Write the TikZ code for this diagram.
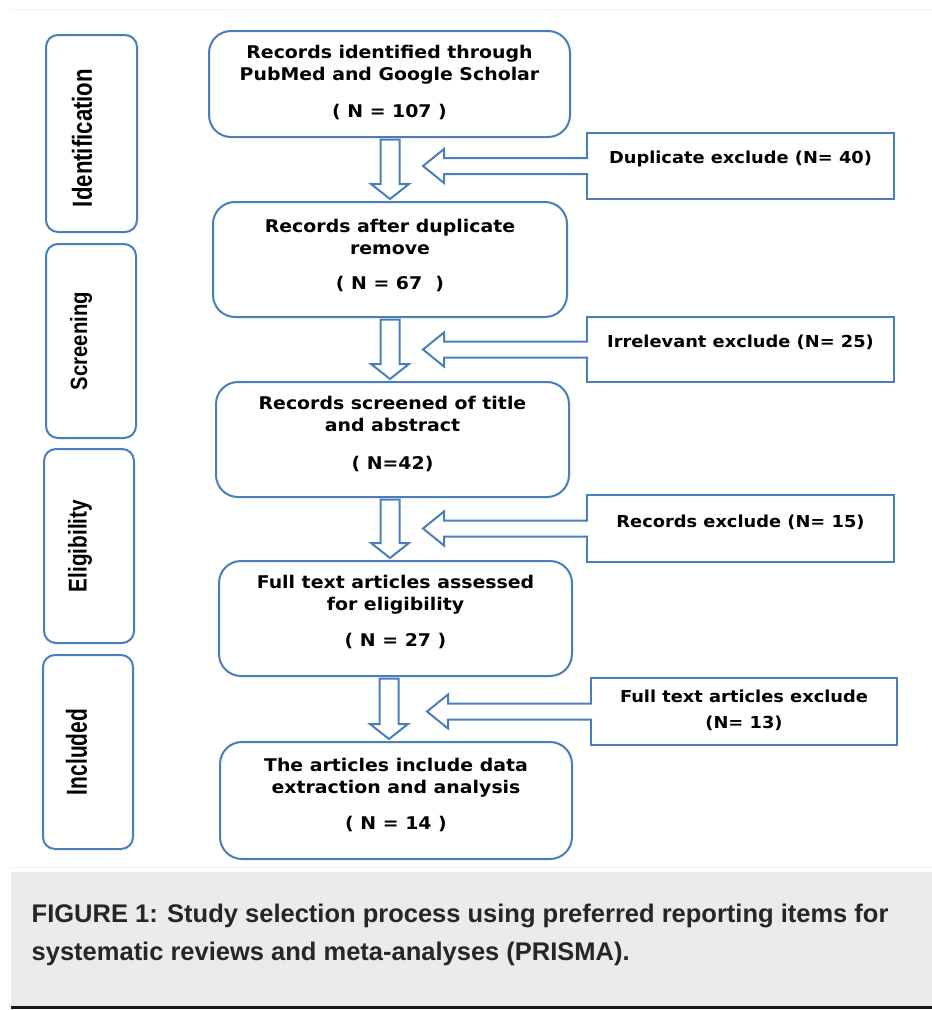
\documentclass[tikz,border=0pt]{standalone}
\usepackage{fontspec}
\usepackage{graphicx}
\usetikzlibrary{calc}
\setmainfont{Liberation Sans}
\newfontfamily\boxfont{DejaVu Sans}[FakeStretch=1.08]
\definecolor{bl}{RGB}{74,126,187}
\definecolor{capbg}{RGB}{235,235,235}
\definecolor{captxt}{RGB}{38,38,38}
\definecolor{faint}{RGB}{242,242,242}

\newcommand\dnarrow[3]{% #1 x reference, #2 upper node, #3 lower node
  \draw[blockarrow]
    ($(#1 |- #2.south)+(-9.5,2.5)$) -- ($(#1 |- #2.south)+(9.5,2.5)$) --
    ($(#1 |- #3.north)+(9.5,-18)$) -- ($(#1 |- #3.north)+(19,-18)$) --
    ($(#1 |- #3.north)+(0,-3)$) --
    ($(#1 |- #3.north)+(-19,-18)$) -- ($(#1 |- #3.north)+(-9.5,-18)$) -- cycle;}

\newcommand\lfarrow[2]{% #1 exclusion box, #2 tip x reference
  \fill[white] ($(#1.west)+(1.2,-8)$) -- ($(#2 |- #1.west)+(21,-8)$) --
    ($(#2 |- #1.west)+(21,-17)$) -- (#2 |- #1.west) -- ($(#2 |- #1.west)+(21,17)$) --
    ($(#2 |- #1.west)+(21,8)$) -- ($(#1.west)+(1.2,8)$) -- cycle;
  \draw[blockarrow, fill=none] ($(#1.west)+(1,-8)$) -- ($(#2 |- #1.west)+(21,-8)$) --
    ($(#2 |- #1.west)+(21,-17)$) -- (#2 |- #1.west) -- ($(#2 |- #1.west)+(21,17)$) --
    ($(#2 |- #1.west)+(21,8)$) -- ($(#1.west)+(1,8)$);}

\begin{document}
\begin{tikzpicture}[x=1pt,y=-1pt,
  stagebox/.style={draw=bl, line width=2pt, rounded corners=12pt, fill=white, inner sep=0pt, outer sep=0pt},
  mainbox/.style={draw=bl, line width=2pt, rounded corners=22pt, fill=white, inner sep=0pt, outer sep=0pt},
  exbox/.style={draw=bl, line width=2pt, fill=white, inner sep=0pt, outer sep=0pt},
  maintext/.style={align=center, inner sep=0pt, anchor=north, text=black,
    font=\boxfont\bfseries\fontsize{17.5}{21.5}\selectfont},
  extext/.style={align=center, inner sep=0pt, text=black,
    font=\boxfont\bfseries\fontsize{16.5}{26}\selectfont},
  stagetext/.style={rotate=90, inner sep=0pt, text=black, font=\bfseries},
  blockarrow/.style={draw=bl, line width=2pt, fill=white, line join=miter},
]
\useasboundingbox (0,0) rectangle (932,1010);
\fill[white] (0,0) rectangle (932,1010);
\draw[faint, line width=1pt] (10,9.5) -- (932,9.5);
\draw[faint, line width=1pt] (11,867) -- (932,867);

% stage boxes
\node[stagebox, minimum width=91, minimum height=197] (s1) at (91.5,133.5) {};
\node[stagebox, minimum width=90, minimum height=194] (s2) at (91,341) {};
\node[stagebox, minimum width=90, minimum height=194] (s3) at (89,546) {};
\node[stagebox, minimum width=90, minimum height=194] (s4) at (88,752) {};
\node[stagetext] (l1) at (82,138) {\resizebox{138pt}{20pt}{Identification}};
\node[stagetext] (l2) at (81,341) {\resizebox*{98pt}{22pt}{Screening}};
\node[stagetext] (l3) at (80,546) {\resizebox*{92pt}{24pt}{Eligibility}};
\node[stagetext] (l4) at (76.5,752) {\resizebox{86pt}{21pt}{Included}};

% main boxes
\node[mainbox, minimum width=361, minimum height=106] (b1) at (389.5,84) {};
\node[mainbox, minimum width=354, minimum height=115] (b2) at (390,259.5) {};
\node[mainbox, minimum width=353, minimum height=115] (b3) at (392.5,439.5) {};
\node[mainbox, minimum width=353, minimum height=115] (b4) at (395.5,618.5) {};
\node[mainbox, minimum width=352, minimum height=117] (b5) at (396,800.5) {};

\node[maintext] (t1) at (389.5,45.1) {Records identified through\\PubMed and Google Scholar\\[15.5pt]( N = 107 )};
\node[maintext] (t2) at (390,219.1) {Records after duplicate\\remove\\[13.5pt]( N = 67~~)};
\node[maintext] (t3) at (392.5,396.1) {Records screened of title\\and abstract\\[16.5pt]( N=42)};
\node[maintext] (t4) at (395.5,575.1) {Full text articles assessed\\for eligibility\\[14.5pt]( N = 27 )};
\node[maintext] (t5) at (396,758.1) {The articles include data\\extraction and analysis\\[14.5pt]( N = 14 )};

% exclusion boxes
\node[exbox, minimum width=307, minimum height=66] (r1) at (740.5,166) {};
\node[exbox, minimum width=307, minimum height=65] (r2) at (740.5,349.5) {};
\node[exbox, minimum width=307, minimum height=67] (r3) at (740.5,528.5) {};
\node[exbox, minimum width=306, minimum height=67] (r4) at (744,711.5) {};

\node[extext] (e1) at (740.5,159) {Duplicate exclude (N= 40)};
\node[extext] (e2) at (740.5,342) {Irrelevant exclude (N= 25)};
\node[extext] (e3) at (740.5,522) {Records exclude (N= 15)};
\node[extext] (e4) at (744,710) {Full text articles exclude\\(N= 13)};

% arrows
\coordinate (ax) at (390,0);
\coordinate (ax4) at (389,0);
\coordinate (tipx) at (423,0);
\coordinate (tipx4) at (427,0);
\dnarrow{ax}{b1}{b2}
\dnarrow{ax}{b2}{b3}
\dnarrow{ax}{b3}{b4}
\dnarrow{ax4}{b4}{b5}
\lfarrow{r1}{tipx}
\lfarrow{r2}{tipx}
\lfarrow{r3}{tipx}
\lfarrow{r4}{tipx4}

% caption
\fill[capbg] (11,872) rectangle (932,1006);
\draw[black!90, line width=3pt] (11,1007.5) -- (932,1007.5);
\node[anchor=north west, inner sep=0pt, align=left, text=captxt,
  font=\bfseries\fontsize{25.5}{38}\selectfont] (cap) at (31.5,903.4)
  {FIGURE 1: Study selection process using preferred reporting items for\\systematic reviews and meta-analyses (PRISMA).};
\end{tikzpicture}
\end{document}
